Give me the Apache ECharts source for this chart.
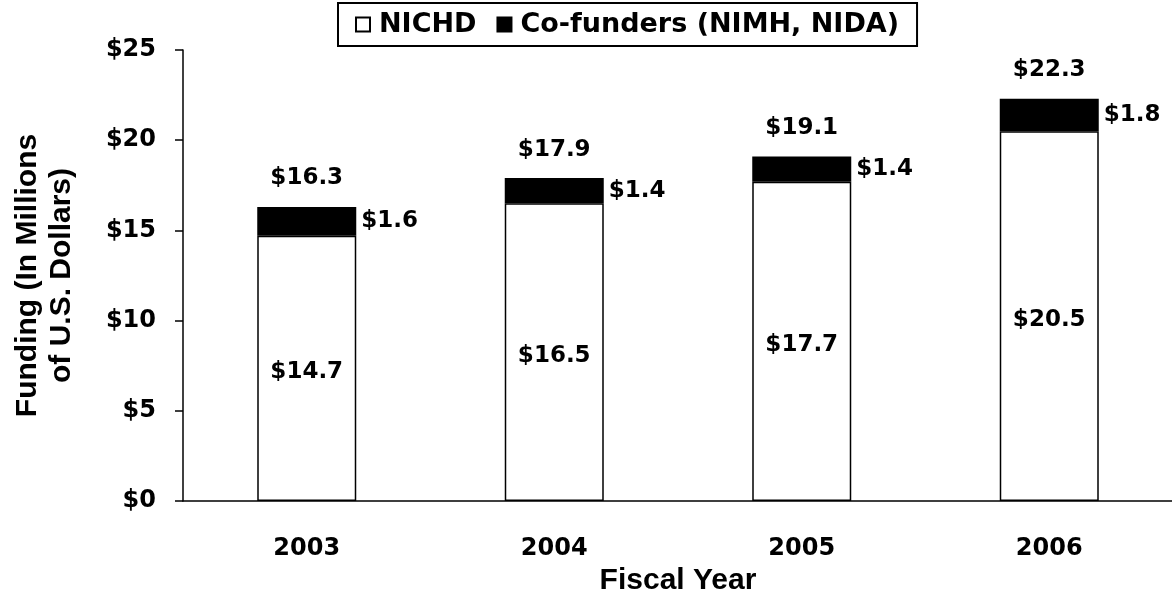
<!DOCTYPE html>
<html>
<head>
<meta charset="utf-8">
<title>Funding by Fiscal Year</title>
<script src="https://cdn.jsdelivr.net/npm/echarts@6/dist/echarts.min.js"></script>
<style>
  html, body { margin: 0; padding: 0; background: #fff; }
  #chart { width: 1172px; height: 595px; }
</style>
</head>
<body>
<div id="chart"></div>
<script>
// fiscal years on the x axis
const years = ["2003", "2004", "2005", "2006"];
// funding in millions of US dollars
const nichd = [14.7, 16.5, 17.7, 20.5];
const cofunders = [1.6, 1.4, 1.4, 1.8];
const totals = [16.3, 17.9, 19.1, 22.3];
// y axis ticks
const yMin = 0;
const yMax = 25;
const yStep = 5;

const wideFont = "DejaVu Sans";
const nameFont = "Liberation Sans";
const money = (v) => "$" + v;
const moneyLabel = (p) => "$" + Number(p.value).toFixed(1);

const mychart = echarts.init(document.getElementById("chart"));
mychart.setOption({
  animation: false,
  legend: {
    data: ["NICHD", "Co-funders (NIMH, NIDA)"],
    left: 338,
    top: 3,
    padding: [8, 18, 8, 17],
    borderColor: "#000",
    borderWidth: 2,
    itemWidth: 14,
    itemHeight: 14,
    itemGap: 20,
    icon: "rect",
    textStyle: {
      fontFamily: wideFont,
      fontWeight: "bold",
      fontSize: 27,
      color: "#000",
      padding: [0, 0, 0, 4],
    },
  },
  grid: {
    left: 183,
    top: 50,
    width: 990,
    height: 451,
    outerBoundsMode: "none",
  },
  xAxis: {
    type: "category",
    data: years,
    name: "Fiscal Year",
    nameLocation: "middle",
    nameGap: 59,
    nameTextStyle: {
      fontFamily: nameFont,
      fontWeight: "bold",
      fontSize: 30,
      color: "#000",
    },
    axisLine: { lineStyle: { color: "#000", width: 1.5 } },
    axisTick: { length: 10, lineStyle: { color: "#000", width: 1.5 } },
    axisLabel: {
      margin: 36,
      fontFamily: wideFont,
      fontWeight: "bold",
      fontSize: 24,
      color: "#000",
    },
  },
  yAxis: {
    type: "value",
    min: yMin,
    max: yMax,
    interval: yStep,
    name: "Funding (In Millions\nof U.S. Dollars)",
    nameLocation: "middle",
    nameRotate: 90,
    nameGap: 104,
    nameTextStyle: {
      fontFamily: nameFont,
      fontWeight: "bold",
      fontSize: 30,
      lineHeight: 34,
      color: "#000",
    },
    splitLine: { show: false },
    axisLine: { show: true, lineStyle: { color: "#000", width: 1.5 } },
    axisTick: { show: true, length: 8, lineStyle: { color: "#000", width: 1.5 } },
    axisLabel: {
      margin: 27,
      formatter: money,
      fontFamily: wideFont,
      fontWeight: "bold",
      fontSize: 24,
      color: "#000",
    },
  },
  series: [
    {
      name: "NICHD",
      type: "bar",
      stack: "total",
      barWidth: "40%",
      data: nichd,
      itemStyle: { color: "#fff", borderColor: "#000", borderWidth: 1.5 },
      label: {
        show: true,
        position: "inside",
        offset: [0, 4],
        formatter: moneyLabel,
        fontFamily: wideFont,
        fontWeight: "bold",
        fontSize: 23,
        color: "#000",
      },
    },
    {
      name: "Co-funders (NIMH, NIDA)",
      type: "bar",
      stack: "total",
      barWidth: "40%",
      data: cofunders,
      itemStyle: { color: "#000", borderColor: "#000", borderWidth: 1.5 },
      label: {
        show: true,
        position: "right",
        distance: 5,
        formatter: moneyLabel,
        fontFamily: wideFont,
        fontWeight: "bold",
        fontSize: 23,
        color: "#000",
      },
    },
    {
      // totals printed above each stack
      name: "Total",
      type: "scatter",
      data: totals,
      symbolSize: 0,
      itemStyle: { opacity: 1 },
      label: {
        show: true,
        position: "top",
        distance: 17,
        formatter: moneyLabel,
        fontFamily: wideFont,
        fontWeight: "bold",
        fontSize: 23,
        color: "#000",
      },
    },
  ],
});
</script>
</body>
</html>
